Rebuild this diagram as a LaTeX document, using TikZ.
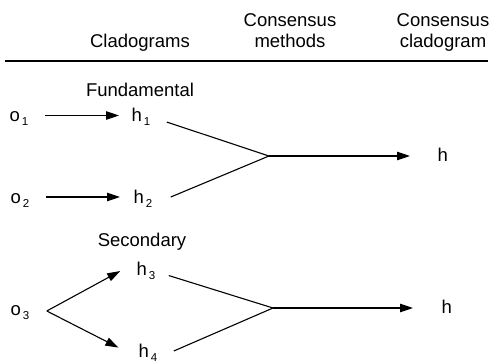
\documentclass[tikz,border=0pt]{standalone}
\usepackage{fontspec}
\setmainfont{Liberation Sans}
\usetikzlibrary{arrows.meta}
\newcommand{\lowidx}[1]{\kern2pt\raisebox{-4pt}{\fontsize{11.5}{11.5}\selectfont #1}}
\begin{document}
\begin{tikzpicture}[x=1pt, y=-1pt, line width=1.1pt, >={Triangle[length=13pt,width=8.5pt]},
    every node/.style={font=\fontsize{18.5}{21}\selectfont},
    leaf/.style={inner sep=0pt, text height=12pt, text depth=0pt, anchor=base west},
    head/.style={anchor=base, align=center}]
    \useasboundingbox (0,0) rectangle (490,362);
    \node [head] (clad) at (140,47) {Cladograms};
    \node [head] (meth) at (290,47) {Consensus\\methods};
    \node [head] (cons) at (443,47) {Consensus\\cladogram};
    \draw [line width=1.3pt] (5,61) -- (488,61);

    \node [anchor=base] (fund) at (140,96) {Fundamental};
    \node [leaf] (o1) at (9,121.5) {o\lowidx{1}};
    \node [leaf] (h1) at (131,121.5) {h\lowidx{1}};
    \node [leaf] (o2) at (10,203) {o\lowidx{2}};
    \node [leaf] (h2) at (133,203) {h\lowidx{2}};
    \node [leaf] (hA) at (437,161) {h};
    \coordinate (j1) at (269,156);

    \draw [->, shorten <=16pt, shorten >=12pt] (o1) -- (h1);
    \draw [->, shorten <=16pt, shorten >=13pt] (o2) -- (h2);
    \draw ([xshift=16pt]h1.south east) -- (j1);
    \draw ([xshift=18pt]h2.east) -- (j1);
    \draw [->, shorten >=27pt] (j1) -- (j1 -| hA.west);

    \node [anchor=base] (sec) at (142,246) {Secondary};
    \node [leaf] (o3) at (10,315) {o\lowidx{3}};
    \node [leaf] (h3) at (136,275) {h\lowidx{3}};
    \node [leaf] (h4) at (138,357) {h\lowidx{4}};
    \node [leaf] (hB) at (441,313) {h};
    \coordinate (fork) at ([xshift=17pt,yshift=-2pt]o3.east);
    \coordinate (j2) at (273,308);

    \draw [->, shorten >=18pt] (fork) -- (h3.north west);
    \draw [->, shorten >=22pt] (fork) -- (h4.south west);
    \draw ([xshift=13pt]h3.south east) -- (j2);
    \draw ([xshift=16pt]h4.east) -- (j2);
    \draw [->, shorten >=28pt] (j2) -- (j2 -| hB.west);
\end{tikzpicture}
\end{document}
